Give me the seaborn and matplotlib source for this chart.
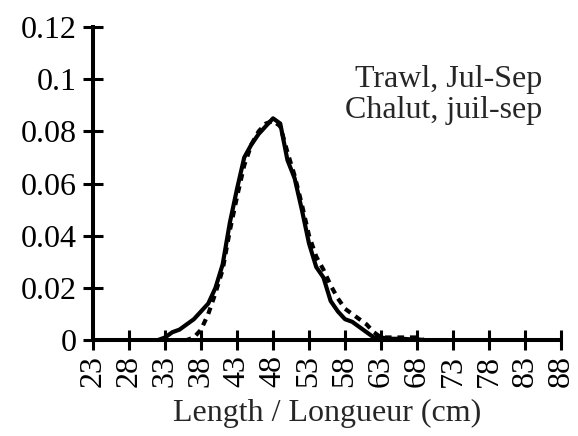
import matplotlib
matplotlib.use("Agg")
import matplotlib.pyplot as plt
import numpy as np
import pandas as pd
import seaborn as sns

# Length-frequency proportions, 1 cm classes
lengths = list(range(23, 89))

observed = {
    33: 0.001, 34: 0.003, 35: 0.004, 36: 0.006, 37: 0.008, 38: 0.011,
    39: 0.014, 40: 0.020, 41: 0.029, 42: 0.045, 43: 0.058, 44: 0.070,
    45: 0.075, 46: 0.079, 47: 0.082, 48: 0.085, 49: 0.083, 50: 0.069,
    51: 0.062, 52: 0.050, 53: 0.037, 54: 0.028, 55: 0.024, 56: 0.015,
    57: 0.011, 58: 0.008, 59: 0.007, 60: 0.005, 61: 0.003, 62: 0.001,
    63: 0.001, 64: 0.0005, 65: 0.0005, 66: 0.0005, 67: 0.0003, 68: 0.0003,
}
comparison = {
    37: 0.001, 38: 0.004, 39: 0.010, 40: 0.018, 41: 0.027, 42: 0.042,
    43: 0.055, 44: 0.067, 45: 0.075, 46: 0.080, 47: 0.083, 48: 0.084,
    49: 0.082, 50: 0.072, 51: 0.063, 52: 0.052, 53: 0.040, 54: 0.032,
    55: 0.027, 56: 0.021, 57: 0.016, 58: 0.012, 59: 0.010, 60: 0.008,
    61: 0.006, 62: 0.003, 63: 0.001, 64: 0.001, 65: 0.001, 66: 0.001,
    67: 0.001, 68: 0.001,
}

solid_vals = [observed.get(L, 0.0) for L in lengths]
dashed_lengths = [L for L in lengths if 34 <= L <= 72]
dashed_vals = [comparison.get(L, 0.0) for L in dashed_lengths]

x_ticks = list(range(23, 89, 5))
y_ticks = [0, 0.02, 0.04, 0.06, 0.08, 0.1, 0.12]
y_tick_labels = ["0", "0.02", "0.04", "0.06", "0.08", "0.1", "0.12"]

df = pd.concat([
    pd.DataFrame({"length": lengths, "prop": solid_vals, "series": "a"}),
    pd.DataFrame({"length": dashed_lengths, "prop": dashed_vals, "series": "b"}),
])

sns.set_style("ticks")
plt.rcParams["font.family"] = ["Liberation Serif", "DejaVu Serif"]

fig = plt.figure(figsize=(5.78, 4.36), dpi=100)
ax = fig.add_axes([0.161, 0.220, 0.8096, 0.718])

sns.lineplot(data=df[df.series == "a"], x="length", y="prop", ax=ax,
             color="black", linewidth=3.0, estimator=None, legend=False)
sns.lineplot(data=df[df.series == "b"], x="length", y="prop", ax=ax,
             color="black", linewidth=3.0, estimator=None, legend=False,
             linestyle=(0, (1.6, 1.4)))

ax.set_xlim(23, 88)
ax.set_ylim(0, 0.12)
ax.set_xticks(x_ticks)
ax.set_xticklabels([str(t) for t in x_ticks], rotation=90, fontsize=23)
ax.set_yticks(y_ticks)
ax.set_yticklabels(y_tick_labels, fontsize=23)
ax.tick_params(direction="inout", length=14, width=2.2, colors="black")
ax.tick_params(axis="y", pad=5)
ax.tick_params(axis="x", pad=4)

for side in ("top", "right"):
    ax.spines[side].set_visible(False)
for side in ("left", "bottom"):
    ax.spines[side].set_linewidth(2.9)
    ax.spines[side].set_color("black")

ax.set_xlabel("Length / Longueur (cm)", fontsize=23, labelpad=8)
ax.set_ylabel("")

ax.text(0.959, 0.808, "Trawl, Jul-Sep", transform=ax.transAxes,
        ha="right", va="baseline", fontsize=23)
ax.text(0.959, 0.708, "Chalut, juil-sep", transform=ax.transAxes,
        ha="right", va="baseline", fontsize=23)

fig.savefig("out.png", dpi=100, facecolor="white")
